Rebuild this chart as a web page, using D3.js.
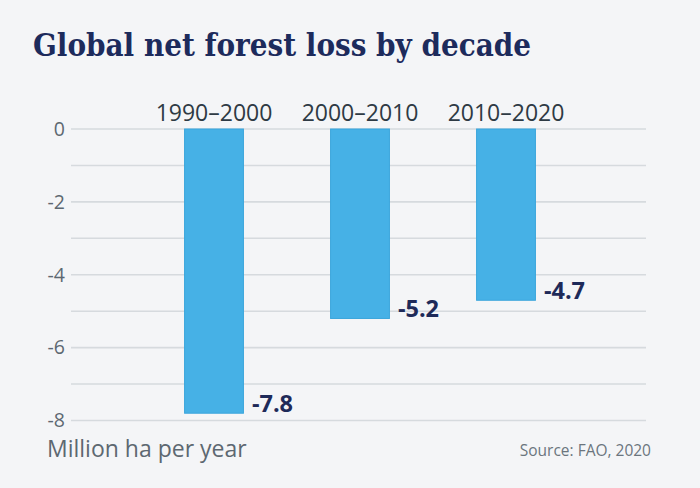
<!DOCTYPE html>
<html>
<head>
<meta charset="utf-8">
<script src="https://cdn.jsdelivr.net/npm/d3@7"></script>
<style>
html,body{margin:0;padding:0;background:#f4f5f7;}
svg{display:block;}
</style>
</head>
<body>
<svg id="chart" width="700" height="488"></svg>
<script>
const categories = ["1990–2000", "2000–2010", "2010–2020"];
const values = [-7.8, -5.2, -4.7];
const valueLabels = ["-7.8", "-5.2", "-4.7"];
const tickValues = [0, -2, -4, -6, -8];
const gridValues = [0, -1, -2, -3, -4, -5, -6, -7, -8];
const title = "Global net forest loss by decade";
const unitLabel = "Million ha per year";
const sourceLabel = "Source: FAO, 2020";

const svg = d3.select("#chart");
svg.append("rect").attr("width", 700).attr("height", 488).attr("fill", "#f4f5f7");

const y = d3.scaleLinear().domain([0, -8]).range([129, 420.5]);
const x = d3.scaleBand().domain(categories).range([141, 579]).paddingInner(0.59).paddingOuter(0.295);

// gridlines
svg.append("g").selectAll("line").data(gridValues).join("line")
  .attr("x1", 71).attr("x2", 646)
  .attr("y1", d => y(d)).attr("y2", d => y(d))
  .attr("stroke", "#d6dade").attr("stroke-width", 1.6);

// y axis labels
const yAxis = d3.axisLeft(y).tickValues(tickValues).tickSize(0).tickPadding(0).tickFormat(d3.format("d"));
const yg = svg.append("g").attr("transform", "translate(65,0)").call(yAxis);
yg.select(".domain").remove();
yg.selectAll("text").attr("font-family", "Open Sans").attr("font-size", 19.5)
  .attr("fill", "#5d6871").attr("dy", "0.32em").text(d => d === 0 ? "0" : "-" + Math.abs(d));

// bars
svg.append("g").selectAll("rect").data(values).join("rect")
  .attr("x", (d, i) => x(categories[i]) + 0.5)
  .attr("y", d => y(0))
  .attr("width", x.bandwidth() - 1)
  .attr("height", d => y(d) - y(0))
  .attr("fill", "#46b1e6").attr("stroke", "#3ba6dc").attr("stroke-width", 1);

// category labels
const xAxis = d3.axisTop(x).tickSize(0).tickPadding(0);
const xg = svg.append("g").attr("transform", "translate(0,121)").call(xAxis);
xg.select(".domain").remove();
xg.selectAll("text").attr("font-family", "Open Sans").attr("font-size", 23)
  .attr("fill", "#2e3a44").attr("dy", 0);

// value labels
svg.append("g").selectAll("text").data(values).join("text")
  .attr("x", (d, i) => x(categories[i]) + x.bandwidth() + 8)
  .attr("y", d => y(d) - 1)
  .attr("font-family", "Open Sans").attr("font-weight", 700).attr("font-size", 23.5)
  .attr("fill", "#1e2a59").text((d, i) => valueLabels[i]);

// title
svg.append("text").attr("x", 33).attr("y", 56)
  .attr("font-family", "DejaVu Serif Condensed").attr("font-weight", 700).attr("font-size", 31)
  .attr("fill", "#1d2b5c")
  .text(title);

// unit label
svg.append("text").attr("x", 47).attr("y", 457)
  .attr("font-family", "Open Sans").attr("font-size", 23)
  .attr("fill", "#5d6871").text(unitLabel);

// source
svg.append("text").attr("x", 651).attr("y", 456).attr("text-anchor", "end")
  .attr("font-family", "Open Sans").attr("font-size", 15.5)
  .attr("fill", "#6b757e").text(sourceLabel);
</script>
</body>
</html>
